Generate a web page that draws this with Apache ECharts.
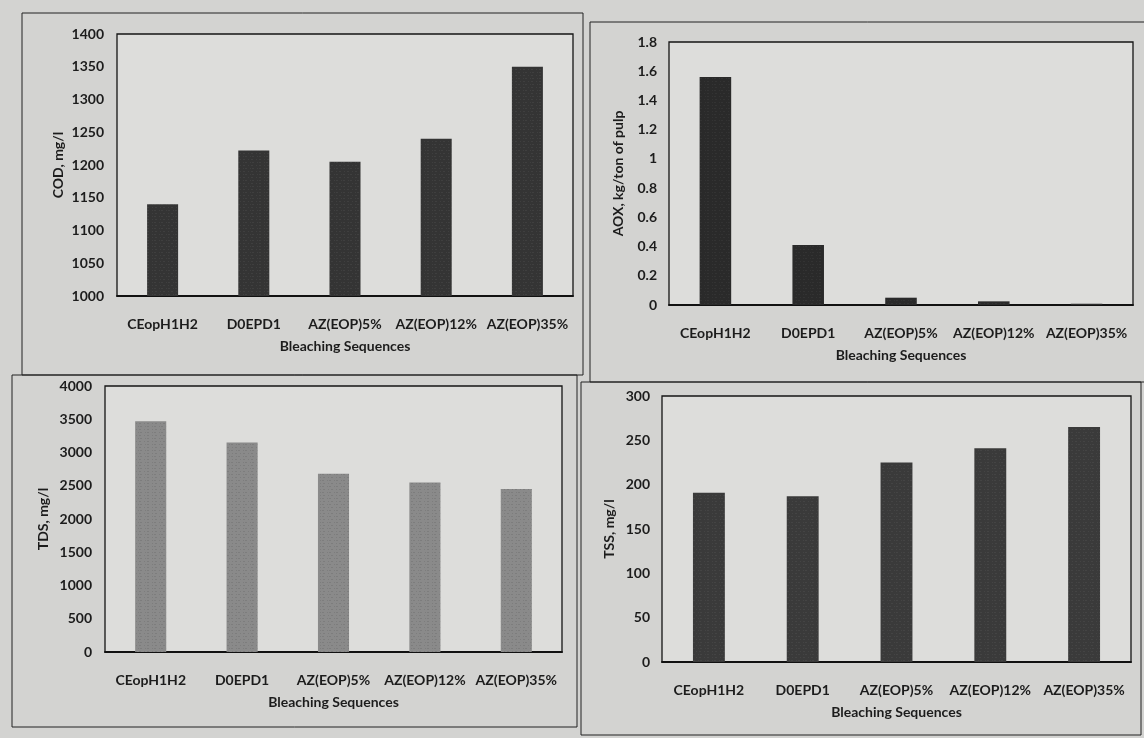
<!DOCTYPE html>
<html><head><meta charset="utf-8">
<script src="https://cdn.jsdelivr.net/npm/echarts@6/dist/echarts.min.js"></script>
<style>html,body{margin:0;padding:0;background:#d3d3d1;}#c{width:1144px;height:738px;}</style>
</head><body><div id="c"></div>
<script>
const categories = ['CEopH1H2', 'D0EPD1', 'AZ(EOP)5%', 'AZ(EOP)12%', 'AZ(EOP)35%'];
const codValues = [1140, 1222, 1205, 1240, 1350];
const aoxValues = [1.56, 0.41, 0.05, 0.025, 0.008];
const tdsValues = [3470, 3150, 2680, 2550, 2450];
const tssValues = [191, 187, 225, 241, 265];
const xTitle = 'Bleaching Sequences';
const yTitles = ['COD, mg/l', 'AOX, kg/ton of pulp', 'TDS, mg/l', 'TSS, mg/l'];

const font = 'Lato, "Open Sans", sans-serif';
const grids = [
  {left: 117, top: 34, width: 456, height: 262},
  {left: 669, top: 42, width: 464, height: 263},
  {left: 105, top: 386, width: 457, height: 266},
  {left: 662, top: 396, width: 469, height: 266}
];
const yCfg = [
  {min: 1000, max: 1400, interval: 50},
  {min: 0, max: 1.8, interval: 0.2},
  {min: 0, max: 4000, interval: 500},
  {min: 0, max: 300, interval: 50}
];
const data = [codValues, aoxValues, tdsValues, tssValues];
const colors = ['#343434', '#2a2a2a', '#8a8a8a', '#3a3a3a'];
const speckle = ['rgba(200,200,200,0.22)', 'rgba(200,200,200,0.18)', 'rgba(40,40,40,0.35)', 'rgba(200,200,200,0.22)'];
const nameGaps = [52, 44, 55, 46];
const labelMargins = [13, 12, 13, 12];

const chart = echarts.init(document.getElementById('c'), null, {renderer: 'canvas'});
const txt = {fontFamily: font, fontWeight: 'bold', fontSize: 14, color: '#1c1c1c'};
chart.setOption({
  backgroundColor: '#d3d3d1',
  animation: false,
  grid: grids.map(g => Object.assign({show: true, backgroundColor: '#dddddb', borderColor: '#151515', borderWidth: 1.3}, g)),
  xAxis: grids.map((g, i) => ({
    type: 'category', gridIndex: i, data: categories,
    name: xTitle, nameLocation: 'middle', nameGap: 43,
    nameTextStyle: Object.assign({}, txt),
    axisLine: {lineStyle: {color: '#111', width: 1.8}},
    axisTick: {show: false},
    axisLabel: Object.assign({interval: 0, margin: 21}, txt)
  })),
  yAxis: grids.map((g, i) => ({
    type: 'value', gridIndex: i, min: yCfg[i].min, max: yCfg[i].max, interval: yCfg[i].interval,
    name: yTitles[i], nameLocation: 'middle', nameGap: nameGaps[i], nameRotate: 90,
    nameTextStyle: Object.assign({}, txt, {fontSize: 14}),
    axisLine: {show: false}, axisTick: {show: false}, splitLine: {show: false},
    axisLabel: Object.assign({margin: labelMargins[i], formatter: v => String(Math.round(v * 100) / 100)}, txt)
  })),
  series: data.map((d, i) => ({
    type: 'bar', xAxisIndex: i, yAxisIndex: i, data: d, barWidth: '34%',
    itemStyle: {
      color: colors[i],
      decal: {symbol: 'rect', symbolSize: 0.7, color: speckle[i], dashArrayX: [[1, 2, 2, 3], [2, 3, 1, 1]], dashArrayY: [1, 2], rotation: 0}
    }
  })),
  graphic: [
    {type: 'rect', shape: {x: 22, y: 13, width: 561, height: 362}, style: {fill: 'none', stroke: '#222', lineWidth: 1}},
    {type: 'rect', shape: {x: 590, y: 22, width: 570, height: 360}, style: {fill: 'none', stroke: '#222', lineWidth: 1}},
    {type: 'rect', shape: {x: 12, y: 375, width: 565, height: 352}, style: {fill: 'none', stroke: '#222', lineWidth: 1}},
    {type: 'rect', shape: {x: 581, y: 382, width: 560, height: 353}, style: {fill: 'none', stroke: '#222', lineWidth: 1}}
  ]
});
</script></body></html>
